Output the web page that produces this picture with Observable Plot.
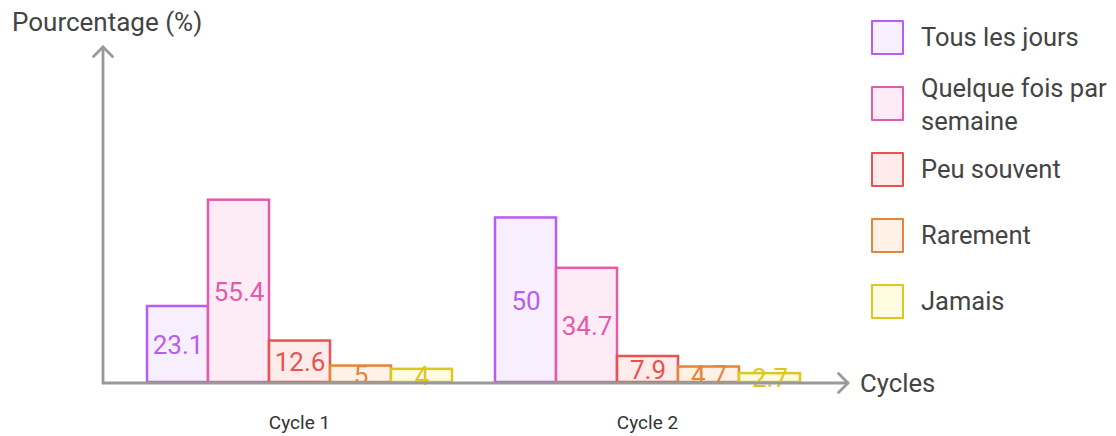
<!DOCTYPE html>
<html>
<head>
<meta charset="utf-8">
<script src="https://cdn.jsdelivr.net/npm/d3@7"></script>
<script src="https://cdn.jsdelivr.net/npm/@observablehq/plot@0.6"></script>
<style>
  html, body { margin: 0; padding: 0; background: #fff; }
  #wrap { position: relative; width: 1116px; height: 436px; font-family: Roboto, "Noto Sans", sans-serif; color: #444; }
  #wrap svg { position: absolute; left: 0; top: 0; }
  .abs { position: absolute; white-space: nowrap; line-height: 33px; }
  .title { left: 12px; top: 6px; font-size: 26px; color: #444; }
  .xlab { left: 860px; top: 367px; font-size: 25.7px; color: #444; }
  .leg-sq { position: absolute; width: 29px; height: 31px; border: 2.5px solid; border-radius: 1px; }
  .leg-tx { position: absolute; font-size: 25.5px; line-height: 33px; color: #444; white-space: nowrap; }
</style>
</head>
<body>
<div id="wrap"></div>
<script>
const cycles = ["Cycle 1", "Cycle 2"];
const categories = ["Tous les jours", "Quelque fois par semaine", "Peu souvent", "Rarement", "Jamais"];
const legendLabels = ["Tous les jours", "Quelque fois par\nsemaine", "Peu souvent", "Rarement", "Jamais"];
const cycle1 = [23.1, 55.4, 12.6, 5, 4];
const cycle2 = [50, 34.7, 7.9, 4.7, 2.7];
const strokeColors = ["#b95cf3", "#e35ba9", "#e8524f", "#e5853a", "#dcc71d"];
const fillColors = ["#f8effe", "#fdebf6", "#feeceb", "#fff1e6", "#fefbe1"];

const data = [];
[cycle1, cycle2].forEach((vals, i) => {
  vals.forEach((v, j) => data.push({cycle: cycles[i], cat: categories[j], value: v, k: j}));
});

const chart = Plot.plot({
  width: 1116,
  height: 436,
  marginLeft: 145,
  marginRight: 315,
  marginTop: 45,
  marginBottom: 54,
  style: {fontFamily: "Roboto, 'Noto Sans', sans-serif", fontSize: "19px", color: "#333", background: "transparent"},
  fx: {domain: cycles, paddingInner: 0.115, paddingOuter: 0, label: null, tickSize: 0, tickPadding: 33},
  x: {domain: categories, padding: 0, axis: null},
  y: {domain: [0, 102.4], axis: null},
  marks: [
    Plot.barY(data, {
      fx: "cycle", x: "cat", y: "value",
      fill: d => fillColors[d.k], stroke: d => strokeColors[d.k],
      strokeWidth: 2.5, inset: 0
    }),
    Plot.text(data, {
      fx: "cycle", x: "cat", y: d => d.value / 2,
      text: d => String(d.value),
      fill: d => strokeColors[d.k],
      fontSize: 26, textAnchor: "middle", dy: 1
    })
  ]
});

const wrap = document.getElementById("wrap");
wrap.appendChild(chart);

// Axis lines with arrowheads (layout decoration)
const ns = "http://www.w3.org/2000/svg";
const y0 = chart.scale("y").apply(0);
const yTop = chart.scale("y").apply(102.4);
const axisX = 103, axisEnd = 848;
function el(name, attrs) {
  const e = document.createElementNS(ns, name);
  for (const k in attrs) e.setAttribute(k, attrs[k]);
  chart.appendChild(e);
  return e;
}
const axStyle = {stroke: "#999", "stroke-width": 2.8, fill: "none", "stroke-linecap": "round", "stroke-linejoin": "round"};
el("line", {x1: axisX, y1: y0 + 1, x2: axisX, y2: yTop + 2, ...axStyle});
el("polyline", {points: `${axisX - 9.5},${yTop + 11.5} ${axisX},${yTop + 2} ${axisX + 9.5},${yTop + 11.5}`, ...axStyle});
el("line", {x1: axisX, y1: y0 + 1, x2: axisEnd, y2: y0 + 1, ...axStyle});
el("polyline", {points: `${axisEnd - 9.5},${y0 + 1 - 9.5} ${axisEnd},${y0 + 1} ${axisEnd - 9.5},${y0 + 1 + 9.5}`, ...axStyle});

// Titles
const t = document.createElement("div");
t.className = "abs title"; t.textContent = "Pourcentage (%)";
wrap.appendChild(t);
const xl = document.createElement("div");
xl.className = "abs xlab"; xl.textContent = "Cycles";
wrap.appendChild(xl);

// Legend
legendLabels.forEach((lab, i) => {
  const top = 20 + i * 66;
  const sq = document.createElement("div");
  sq.className = "leg-sq";
  sq.style.left = "871px"; sq.style.top = top + "px";
  sq.style.borderColor = strokeColors[i]; sq.style.background = fillColors[i];
  wrap.appendChild(sq);
  const lines = lab.split("\n");
  const tx = document.createElement("div");
  tx.className = "leg-tx";
  tx.style.left = "921px";
  tx.style.top = (lines.length > 1 ? top - 14 : top + 1) + "px";
  tx.innerHTML = lines.join("<br>");
  wrap.appendChild(tx);
});
</script>
</body>
</html>
